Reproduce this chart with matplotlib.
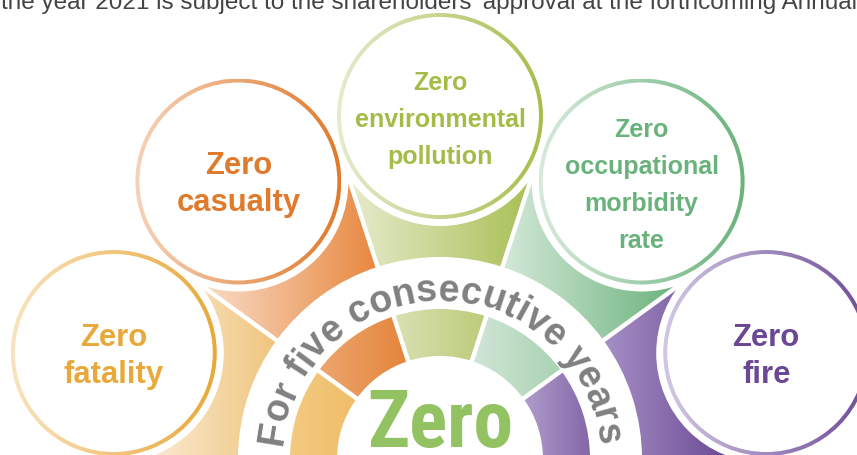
import numpy as np
import matplotlib
matplotlib.use("Agg")
import matplotlib.pyplot as plt
import matplotlib.colors as mcolors
from matplotlib.patches import Wedge, Circle
from matplotlib import font_manager
from matplotlib.ft2font import FT2Font

# Text of the infographic
top_text = "the year 2021 is subject to the shareholders\u2019 approval at the forthcoming Annual General Meeting"
arc_text = "For five consecutive years"
center_text = "Zero"
labels = [["Zero", "fatality"],
          ["Zero", "casualty"],
          ["Zero", "environmental", "pollution"],
          ["Zero", "occupational", "morbidity", "rate"],
          ["Zero", "fire"]]

# Colours, one per goal (left to right round the fan)
text_colors = ["#E8A93A", "#E07A2C", "#A3BC47", "#6AB27B", "#6B4794"]
ring_light = ["#F9E3BE", "#F6D2B8", "#E6EBCD", "#D6EADB", "#D2C8E3"]
ring_dark = ["#E8A93A", "#E07A2C", "#A6BE4C", "#6AB27B", "#6E4B98"]
wedge_light = ["#FAEBD2", "#F8DCC6", "#E6EBCD", "#D4E9D9", "#A690C5"]
wedge_dark = ["#F0C57E", "#E8873F", "#A9C056", "#6DB37E", "#6A4894"]
inner_light = ["#F3CA82", "#EBA66F", "#D9E1B4", "#D2E6D7", "#B09DCB"]
inner_dark = ["#EFBD68", "#E5843A", "#BCCB78", "#A8D2B2", "#8467A8"]

# Layout (pixels, y measured upward)
W, H = 857, 456
cx, cy = 440, H - 460
orbit = 343
sat_angles = [162, 126, 90, 54, 18]
label_sizes = [22.3, 22.3, 18, 18, 22.3]

fig = plt.figure(figsize=(W / 100, H / 100), dpi=100)
ax = fig.add_axes([0, 0, 1, 1])
ax.axis("off")


def gradient_fill(patch, left, right, z):
    patch.set_facecolor("none")
    patch.set_edgecolor("none")
    ax.add_patch(patch)
    ext = patch.get_path().get_extents()
    c0 = np.array(mcolors.to_rgb(left))
    c1 = np.array(mcolors.to_rgb(right))
    t = np.linspace(0, 1, 256)[:, None]
    arr = (c0 * (1 - t) + c1 * t)[None, :, :]
    im = ax.imshow(arr, extent=[ext.x0, ext.x1, ext.y0, ext.y1], origin="lower",
                   aspect="auto", interpolation="bilinear", zorder=z)
    im.set_clip_path(patch)


# Outer fan wedges and inner coloured ring
for i in range(5):
    t1, t2 = 180 - 36 * (i + 1), 180 - 36 * i
    gradient_fill(Wedge((cx, cy), 290, t1, t2, width=88), wedge_light[i], wedge_dark[i], 1)
    gradient_fill(Wedge((cx, cy), 150, t1, t2, width=47), inner_light[i], inner_dark[i], 1)

# White gaps between segments
for a in [36, 72, 108, 144]:
    r = np.radians(a)
    ax.plot([cx, cx + 300 * np.cos(r)], [cy, cy + 300 * np.sin(r)],
            color="white", lw=3.2, solid_capstyle="butt", zorder=2)

# Satellite circles with labels
for i, ang in enumerate(sat_angles):
    r = np.radians(ang)
    sx, sy = cx + orbit * np.cos(r), cy + orbit * np.sin(r)
    ax.add_patch(Circle((sx, sy), 110, facecolor="white", edgecolor="none", zorder=4))
    gradient_fill(Wedge((sx, sy), 103, 0, 360, width=4), ring_light[i], ring_dark[i], 5)
    n = len(labels[i])
    for j, line in enumerate(labels[i]):
        off = (j - (n - 1) / 2) * 37 + 10
        ax.text(sx, sy - off, line, ha="center", va="baseline", color=text_colors[i],
                fontsize=label_sizes[i], fontweight="bold", family="Liberation Sans", zorder=6)

# Curved text in the white band
fp = font_manager.FontProperties(family="Liberation Sans", weight="bold")
font = FT2Font(font_manager.findfont(fp))
arc_size = 27
font.set_size(arc_size, 100)
adv = [font.load_char(ord(c)).linearHoriAdvance / 65536 for c in arc_text]
r_base = 159
total = sum(adv)
start = 90 + np.degrees(total / r_base) / 2
cum = 0
for c, a in zip(arc_text, adv):
    th = start - np.degrees((cum + a / 2) / r_base)
    cum += a
    if c == " ":
        continue
    rr = np.radians(th)
    ax.text(cx + r_base * np.cos(rr), cy + r_base * np.sin(rr), c, rotation=th - 90,
            rotation_mode="anchor", ha="center", va="baseline", fontsize=arc_size,
            fontweight="bold", family="Liberation Sans", color="#808080", zorder=6)

# Big "Zero" in the middle, a narrow face if one is installed
names = {f.name for f in font_manager.fontManager.ttflist}
zero_family = "Liberation Sans"
for cand in ["Liberation Sans Narrow", "Roboto Condensed", "Open Sans Condensed"]:
    if cand in names:
        zero_family = cand
        break
zf = FT2Font(font_manager.findfont(font_manager.FontProperties(family=zero_family, weight="bold")))
zf.set_size(10, 100)
w10 = sum(zf.load_char(ord(c)).linearHoriAdvance / 65536 for c in center_text)
zero_size = 10 * 146 / w10
em = zero_size * 100 / 72
ax.text(cx, H - (390 + 0.716 * em), center_text, ha="center", va="baseline",
        fontsize=zero_size, fontweight="bold", family=zero_family, color="#93C263", zorder=6)

# Cut-off line of body text along the top edge
tf = FT2Font(font_manager.findfont(font_manager.FontProperties(family="Liberation Sans")))
tf.set_size(10, 100)
part = top_text[:top_text.index("Annual") + 5]
w_top = sum(tf.load_char(ord(c)).linearHoriAdvance / 65536 for c in part)
ax.text(1, H - 9, top_text, ha="left", va="baseline", fontsize=10 * 852 / w_top,
        family="Liberation Sans", color="#444444", zorder=6)

ax.set_xlim(0, W)
ax.set_ylim(0, H)
fig.savefig("out.png", dpi=100)
